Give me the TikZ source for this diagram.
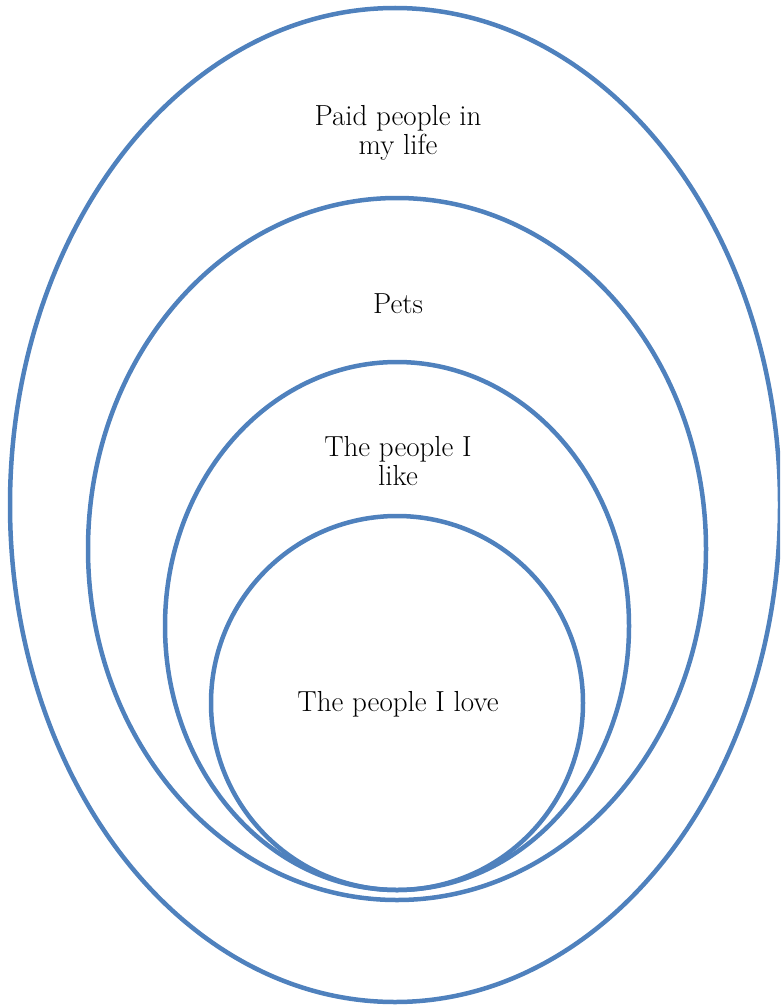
\documentclass[tikz,border=0pt]{standalone}
\begin{document}
\begin{tikzpicture}[x=1pt,y=1pt,
  ring/.style={draw={rgb,255:red,79;green,129;blue,189}, line width=4.5pt},
  lbl/.style={align=center, text=black, font=\fontsize{29}{29}\selectfont}]
\useasboundingbox (0,0) rectangle (780,-1006);
\clip (0,0) rectangle (780,-1006);
\draw[ring] (395,-505) ellipse [x radius=385, y radius=497];
\draw[ring] (397,-549) ellipse [x radius=309, y radius=351];
\draw[ring] (397,-626) ellipse [x radius=232, y radius=264];
\draw[ring] (397,-703) ellipse [x radius=186, y radius=187];
\node[lbl] (paid) at (398,-133) {Paid people in\\my life};
\node[lbl] (pets) at (398,-304) {Pets};
\node[lbl] (like) at (398,-461) {The people I\\like};
\node[lbl] (love) at (398,-704) {The people I love};
\end{tikzpicture}
\end{document}
